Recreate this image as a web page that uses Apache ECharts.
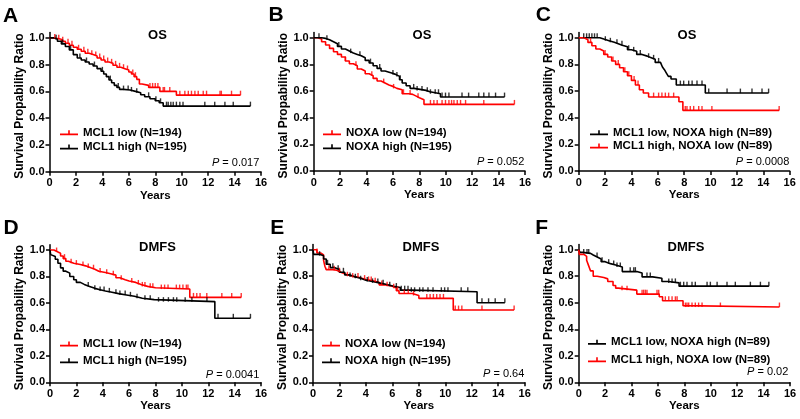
<!DOCTYPE html>
<html><head><meta charset="utf-8">
<script src="https://cdn.jsdelivr.net/npm/echarts@6/dist/echarts.min.js"></script>
<style>html,body{margin:0;padding:0;background:#fff}#c{width:800px;height:419px}</style>
</head><body><div id="c"></div>
<script>
// ---------- DATA ----------
const xTicks = [0, 2, 4, 6, 8, 10, 12, 14, 16];
const yTicks = [0, 0.2, 0.4, 0.6, 0.8, 1.0];
const panelLetters = ['A', 'B', 'C', 'D', 'E', 'F'];
const panelTitles = ['OS', 'OS', 'OS', 'DMFS', 'DMFS', 'DMFS'];
const pValues = ['0.017', '0.052', '0.0008', '0.0041', '0.64', '0.02'];
const xName = 'Years';
const yName = 'Survival Propability Ratio';

// Panel A (OS): [years, survival] step points
const aLow = [[0,1],[0.3,0.995],[0.6,0.99],[0.9,0.975],[1.2,0.96],[1.5,0.945],[1.8,0.93],[2.1,0.915],[2.4,0.9],[2.7,0.885],[3.0,0.875],[3.3,0.865],[3.6,0.85],[3.9,0.835],[4.2,0.82],[4.5,0.81],[4.8,0.795],[5.1,0.78],[5.4,0.77],[5.7,0.76],[6.0,0.745],[6.2,0.73],[6.4,0.71],[6.6,0.69],[6.8,0.655],[7.0,0.645],[7.5,0.63],[8.35,0.6],[9.6,0.572],[14.45,0.572]];
const aLowCens = [0.4,0.7,1.0,1.4,1.7,2.2,2.6,2.9,3.2,3.5,3.8,4.1,4.4,4.7,5.0,5.3,5.6,5.9,6.3,6.5,7.6,7.8,8.0,8.2,8.6,8.7,9.1,9.86,10.24,10.5,10.74,11.0,11.25,11.63,11.88,12.9,13.0,13.77,14.45];
const aHigh = [[0,1],[0.3,0.99],[0.6,0.975],[0.9,0.955],[1.2,0.935],[1.5,0.91],[1.8,0.875],[2.1,0.85],[2.4,0.835],[2.7,0.82],[3.0,0.805],[3.3,0.79],[3.6,0.77],[3.9,0.75],[4.1,0.73],[4.3,0.71],[4.5,0.685],[4.7,0.665],[4.9,0.645],[5.1,0.63],[5.3,0.615],[5.6,0.61],[6.1,0.6],[6.5,0.59],[6.9,0.575],[7.2,0.56],[7.6,0.545],[8.0,0.53],[8.3,0.515],[8.6,0.49],[15.2,0.49]];
const aHighCens = [0.5,1.0,1.6,2.3,2.8,3.4,4.0,4.6,5.2,5.6,5.95,6.2,6.6,7.5,8.05,8.4,8.85,8.98,9.18,9.36,9.6,9.86,10.1,11.75,12.5,13.27,13.9,15.2];

// Panel B (OS)
const bLow = [[0,1],[0.3,0.99],[0.6,0.97],[0.9,0.945],[1.2,0.92],[1.5,0.895],[1.8,0.875],[2.1,0.855],[2.4,0.825],[2.7,0.805],[3.0,0.79],[3.3,0.765],[3.6,0.75],[3.9,0.73],[4.2,0.715],[4.5,0.695],[4.8,0.675],[5.1,0.66],[5.4,0.645],[5.7,0.635],[6.0,0.62],[6.3,0.61],[6.7,0.58],[7.2,0.575],[7.5,0.56],[7.8,0.55],[8.0,0.535],[8.35,0.5],[15.2,0.5]];
const bLowCens = [2.4,3.2,4.4,5.3,6.05,6.8,7.3,7.9,8.84,9.1,9.35,9.72,9.98,10.24,10.44,10.62,10.87,11.12,11.5,12.88,15.2];
const bHigh = [[0,1],[0.6,0.995],[0.9,0.985],[1.2,0.97],[1.5,0.955],[1.8,0.935],[2.1,0.915],[2.4,0.9],[2.7,0.885],[3.0,0.875],[3.3,0.865],[3.6,0.85],[3.9,0.83],[4.2,0.81],[4.5,0.79],[4.8,0.77],[5.1,0.75],[5.4,0.735],[5.9,0.725],[6.2,0.71],[6.5,0.685],[6.7,0.66],[7.0,0.64],[7.3,0.62],[7.6,0.605],[8.5,0.595],[8.8,0.58],[9.6,0.555],[14.45,0.555]];
const bHighCens = [0.4,1.0,1.9,2.8,3.5,4.3,5.0,6.0,6.3,6.55,7.57,7.83,8.2,8.6,8.84,9.2,9.45,9.72,9.98,10.24,11.23,11.73,12.5,12.88,13.27,13.77,14.45];

// Panel C (OS)
const cHigh = [[0,1],[1.6,0.99],[1.9,0.978],[2.3,0.966],[2.7,0.955],[3.0,0.944],[3.3,0.932],[3.7,0.91],[4.0,0.898],[4.4,0.875],[4.8,0.862],[5.2,0.85],[5.5,0.838],[5.8,0.815],[6.2,0.8],[6.35,0.78],[6.5,0.76],[6.65,0.735],[6.8,0.71],[7.0,0.69],[7.4,0.645],[9.6,0.585],[14.4,0.585]];
const cHighCens = [0.38,0.6,0.8,1.0,1.2,1.4,2.02,2.4,2.9,3.28,3.79,4.17,4.67,5.3,5.68,6.06,7.71,7.96,8.34,8.6,8.97,9.35,9.86,11.25,12.26,13.14,13.9,14.4];
const cLow = [[0,1],[0.4,0.985],[0.7,0.965],[1.0,0.94],[1.3,0.915],[1.6,0.9],[1.9,0.875],[2.2,0.855],[2.5,0.825],[2.8,0.8],[3.1,0.775],[3.4,0.745],[3.7,0.715],[4.0,0.68],[4.3,0.645],[4.6,0.61],[4.9,0.585],[5.3,0.555],[7.6,0.52],[7.9,0.455],[15.2,0.455]];
const cLowCens = [0.9,2.0,2.6,3.0,3.5,3.8,4.2,4.5,5.68,6.06,6.31,6.57,6.82,7.2,8.08,8.21,8.46,8.72,9.1,9.35,10.1,15.2];

// Panel D (DMFS)
const dLow = [[0,1],[0.3,0.985],[0.6,0.975],[0.8,0.955],[1.0,0.935],[1.2,0.915],[1.4,0.9],[1.8,0.89],[2.3,0.88],[2.7,0.865],[3.1,0.855],[3.4,0.84],[3.7,0.83],[4.2,0.82],[4.6,0.81],[5.0,0.79],[5.3,0.775],[5.7,0.765],[6.0,0.755],[6.5,0.74],[6.9,0.725],[7.4,0.715],[8.0,0.705],[10.6,0.642],[14.5,0.642]];
const dLowCens = [0.5,1.1,1.6,2.0,2.5,2.9,3.3,3.8,4.3,4.8,5.4,6.2,6.7,7.0,7.2,7.6,7.8,8.44,8.69,8.95,9.58,9.83,10.08,10.34,10.46,10.88,11.13,11.38,11.89,13.03,13.78,14.5];
const dHigh = [[0,1],[0.05,0.965],[0.2,0.95],[0.4,0.93],[0.6,0.9],[0.8,0.865],[1.0,0.84],[1.2,0.825],[1.5,0.8],[1.8,0.775],[2.0,0.755],[2.3,0.74],[2.6,0.725],[3.0,0.71],[3.4,0.7],[3.8,0.69],[4.2,0.68],[4.7,0.67],[5.2,0.66],[5.8,0.65],[6.4,0.635],[7.0,0.625],[7.9,0.61],[12.5,0.484],[15.2,0.484]];
const dHighCens = [2.9,3.4,3.8,4.1,4.5,5.0,5.3,5.7,6.1,6.6,7.2,7.6,8.23,8.6,8.98,9.36,9.61,10.25,10.76,11.9,12.74,13.9,15.2];

// Panel E (DMFS)
const eLow = [[0,1],[0.3,0.975],[0.6,0.96],[0.8,0.92],[0.9,0.875],[1.0,0.85],[1.5,0.845],[1.8,0.83],[2.1,0.815],[2.5,0.8],[3.0,0.79],[3.5,0.775],[4.0,0.765],[4.5,0.755],[5.0,0.735],[5.5,0.725],[6.0,0.71],[6.3,0.69],[6.5,0.67],[7.5,0.655],[8.0,0.633],[10.6,0.545],[15.2,0.545]];
const eLowCens = [0.3,1.2,1.6,2.0,2.6,3.0,3.4,3.9,4.2,4.4,4.7,5.2,5.6,6.1,6.4,6.9,7.2,7.6,8.6,8.85,9.1,9.35,9.6,9.86,10.75,11.0,11.25,12.77,15.2];
const eHigh = [[0,1],[0.05,0.965],[0.5,0.955],[0.8,0.93],[1.0,0.89],[1.3,0.865],[1.6,0.85],[2.0,0.83],[2.4,0.81],[2.8,0.795],[3.2,0.785],[3.6,0.77],[4.0,0.76],[4.5,0.75],[5.0,0.74],[5.5,0.725],[6.1,0.715],[6.6,0.695],[7.4,0.683],[12.4,0.6],[14.5,0.6]];
const eHighCens = [0.5,1.1,1.5,1.9,2.3,2.8,3.2,3.6,4.1,4.5,4.9,5.3,5.8,6.3,6.67,6.93,7.18,7.43,7.68,8.06,8.31,8.69,9.07,9.7,9.95,10.2,11.2,11.7,12.77,13.27,13.77,14.5];

// Panel F (DMFS)
const fHigh = [[0,1],[0.1,0.98],[0.3,0.972],[0.9,0.96],[1.1,0.945],[1.4,0.93],[1.7,0.91],[2.0,0.895],[2.4,0.885],[2.8,0.87],[3.3,0.835],[4.4,0.825],[4.8,0.795],[5.6,0.785],[6.3,0.76],[6.8,0.75],[7.6,0.725],[14.4,0.725]];
const fHighCens = [0.38,0.63,0.76,1.39,1.77,2.27,2.65,2.9,3.15,3.9,4.17,4.29,5.17,5.42,6.82,7.07,7.32,7.7,7.95,8.2,8.58,8.83,9.72,9.97,10.48,11.23,11.86,13.0,13.76,14.4];
const fLow = [[0,1],[0.05,0.965],[0.4,0.95],[0.6,0.92],[0.75,0.88],[0.9,0.84],[1.1,0.8],[1.4,0.79],[1.9,0.78],[2.2,0.76],[2.6,0.73],[2.8,0.71],[3.0,0.695],[4.4,0.665],[6.1,0.645],[6.35,0.615],[7.9,0.578],[8.0,0.568],[15.2,0.568]];
const fLowCens = [3.28,3.66,4.8,4.92,5.05,5.17,5.93,6.06,6.56,6.82,7.07,7.32,7.45,8.08,8.2,8.33,8.58,8.83,9.08,9.34,10.73,15.2];

const panelNames = [
  ['MCL1 low (N=194)', 'MCL1 high (N=195)'],
  ['NOXA low (N=194)', 'NOXA high (N=195)'],
  ['MCL1 low, NOXA high (N=89)', 'MCL1 high, NOXA low (N=89)'],
  ['MCL1 low (N=194)', 'MCL1 high (N=195)'],
  ['NOXA low (N=194)', 'NOXA high (N=195)'],
  ['MCL1 low, NOXA high (N=89)', 'MCL1 high, NOXA low (N=89)']
];
// curves per panel: [name index, steps, censors, colour key]
const panelCurves = [
  [[0, aLow, aLowCens, 'red'], [1, aHigh, aHighCens, 'black']],
  [[0, bLow, bLowCens, 'red'], [1, bHigh, bHighCens, 'black']],
  [[0, cHigh, cHighCens, 'black'], [1, cLow, cLowCens, 'red']],
  [[0, dLow, dLowCens, 'red'], [1, dHigh, dHighCens, 'black']],
  [[0, eLow, eLowCens, 'red'], [1, eHigh, eHighCens, 'black']],
  [[0, fHigh, fHighCens, 'black'], [1, fLow, fLowCens, 'red']]
];

// ---------- LAYOUT / STYLE ----------
const FONT = '"Liberation Sans", Arial, Helvetica, sans-serif';
const COLORS = { red: '#ff0000', black: '#000000' };
const grids = [
  { left: 49.5, top: 32.5, width: 211.5, height: 139.2 },
  { left: 313.7, top: 32.4, width: 211.3, height: 138.6 },
  { left: 578.7, top: 32.4, width: 211, height: 138.6 },
  { left: 50, top: 244.7, width: 211, height: 137.6 },
  { left: 313, top: 244.4, width: 211.7, height: 137.9 },
  { left: 578.7, top: 244.4, width: 211.3, height: 137.9 }
];
const legendPos = [
  { left: 60, top: 125.7, gap: 0.3 },
  { left: 323, top: 125.7, gap: 0 },
  { left: 590, top: 125.7, gap: -0.7 },
  { left: 60, top: 337, gap: 2.7 },
  { left: 322, top: 337, gap: 2.7 },
  { left: 588, top: 335.3, gap: 3.4 }
];
const letterPos = [[3, 15.8], [268.5, 15.5], [535.7, 15.5], [3.5, 227.8], [270.2, 227.8], [535.2, 227.8]];
const titlePos = [[157.5, 35], [422, 35], [687, 35], [157.5, 247.5], [421, 247.3], [686, 247.3]];
const pPos = [[259.3, 163], [524.3, 162.3], [789.3, 162.3], [259.3, 374.7], [524.3, 374], [788.3, 372.3]];

const ICON = 'path://M0,5.2h18v1.8h-18z M8.2,2h1.6v4h-1.6z';

function stepAt(steps, t) {
  let v = steps[0][1];
  for (const p of steps) { if (p[0] <= t) v = p[1]; else break; }
  return v;
}

const xAxis = [], yAxis = [], series = [], legend = [], graphic = [];
grids.forEach((g, i) => {
  xAxis.push({
    gridIndex: i, type: 'value', min: 0, max: 16, interval: 2,
    axisLine: { show: true, lineStyle: { color: '#000', width: 1.5 } },
    axisTick: { show: true, length: 4, lineStyle: { color: '#000', width: 1.5 } },
    axisLabel: { color: '#000', fontFamily: FONT, fontWeight: 'bold', fontSize: 11, margin: 6 },
    splitLine: { show: false },
    name: xName, nameLocation: 'middle', nameGap: 17,
    nameTextStyle: { color: '#000', fontFamily: FONT, fontWeight: 'bold', fontSize: 11.5 }
  });
  yAxis.push({
    gridIndex: i, type: 'value', min: 0, max: 1.04,
    axisLine: { show: true, lineStyle: { color: '#000', width: 1.5 } },
    axisTick: { show: true, length: 4, lineStyle: { color: '#000', width: 1.5 }, customValues: yTicks },
    axisLabel: { customValues: yTicks, formatter: v => v.toFixed(1), color: '#000', fontFamily: FONT, fontWeight: 'bold', fontSize: 11, margin: 5 },
    splitLine: { show: false },
    name: yName, nameLocation: 'middle', nameGap: 22,
    nameTextStyle: { color: '#000', fontFamily: FONT, fontWeight: 'bold', fontSize: 12, padding: [0, 8, 0, 0] }
  });
  panelCurves[i].forEach(c => {
    const name = panelNames[i][c[0]];
    const col = COLORS[c[3]];
    series.push({
      type: 'line', name: name, xAxisIndex: i, yAxisIndex: i, data: c[1], step: 'end',
      symbol: 'none', showSymbol: false, color: col,
      lineStyle: { color: col, width: 1.6 }, itemStyle: { color: col },
      animation: false, z: 2
    });
    series.push({
      type: 'scatter', xAxisIndex: i, yAxisIndex: i,
      data: c[2].map(t => [t, stepAt(c[1], t)]),
      symbol: 'rect', symbolSize: [1.4, 4.5], symbolOffset: [0, -2.2],
      itemStyle: { color: col }, silent: true, animation: false, z: 3
    });
  });
  const lp = legendPos[i];
  legend.push({
    data: panelNames[i], orient: 'vertical', left: lp.left, top: lp.top,
    itemWidth: 18, itemHeight: 5, itemGap: lp.gap, padding: 0, icon: ICON,
    selectedMode: false, itemStyle: { borderWidth: 0 },
    textStyle: { color: '#000', fontFamily: FONT, fontWeight: 'bold', fontSize: 11.5, lineHeight: 14 }
  });
  graphic.push({
    type: 'text', x: letterPos[i][0], y: letterPos[i][1], silent: true,
    style: { text: panelLetters[i], fill: '#000', font: 'bold 21px ' + FONT, align: 'left', verticalAlign: 'middle' }
  });
  graphic.push({
    type: 'text', x: titlePos[i][0], y: titlePos[i][1], silent: true,
    style: { text: panelTitles[i], fill: '#000', font: 'bold 13px ' + FONT, align: 'center', verticalAlign: 'middle' }
  });
  graphic.push({
    type: 'text', x: pPos[i][0], y: pPos[i][1], silent: true,
    style: {
      text: '{i|P} = ' + pValues[i], fill: '#000', fontFamily: FONT, fontSize: 11,
      align: 'right', verticalAlign: 'middle',
      rich: { i: { fontStyle: 'italic', fontFamily: FONT, fontSize: 11, fill: '#000' } }
    }
  });
});

const chart = echarts.init(document.getElementById('c'), null, { renderer: 'canvas' });
chart.setOption({
  animation: false,
  backgroundColor: '#fff',
  grid: grids,
  xAxis: xAxis,
  yAxis: yAxis,
  legend: legend,
  series: series,
  graphic: graphic
});
</script>
</body></html>
